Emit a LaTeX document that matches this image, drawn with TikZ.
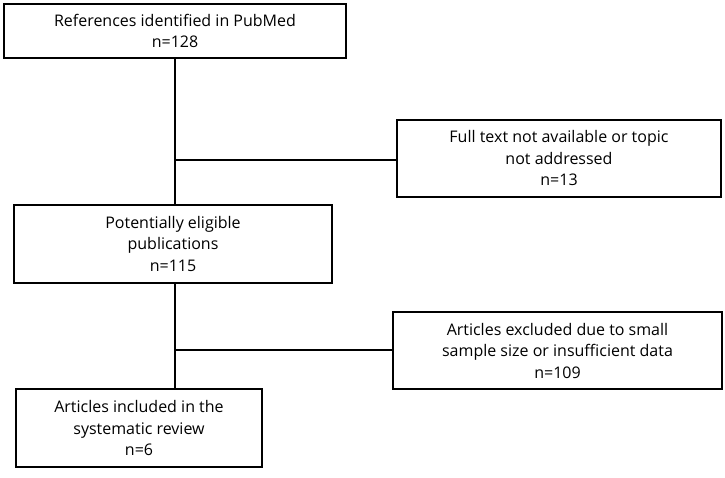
\documentclass[tikz,border=0pt]{standalone}
\usepackage{fontspec}
\setmainfont{Open Sans}
\begin{document}
\begin{tikzpicture}[x=1pt,y=-1pt,
  box/.style={draw=black,line width=1.3pt,align=center,inner sep=0pt,font=\fontsize{16}{21.5}\selectfont},
  conn/.style={line width=2pt}]
\useasboundingbox (0,0) rectangle (725,478);
\node[box,minimum width=342pt,minimum height=54pt] (a) at (175,31) {References identified in PubMed\\n=128};
\node[box,minimum width=324pt,minimum height=77pt] (b) at (559,158.5) {Full text not available or topic\\not addressed\\n=13};
\node[box,minimum width=318pt,minimum height=78pt] (c) at (173,244) {Potentially eligible\\publications\\n=115};
\node[box,minimum width=329pt,minimum height=77pt] (d) at (557.5,350.5) {Articles excluded due to small\\sample size or insufficient data\\n=109};
\node[box,minimum width=246pt,minimum height=78pt] (e) at (139,428) {Articles included in the\\systematic review\\n=6};
\coordinate (j1) at (175,160);
\coordinate (j2) at (175,350);
\draw[conn] (175,58) -- (175,205);
\draw[conn] (j1) -- (b.west |- j1);
\draw[conn] (175,283) -- (175,389);
\draw[conn] (j2) -- (d.west |- j2);
\end{tikzpicture}
\end{document}
